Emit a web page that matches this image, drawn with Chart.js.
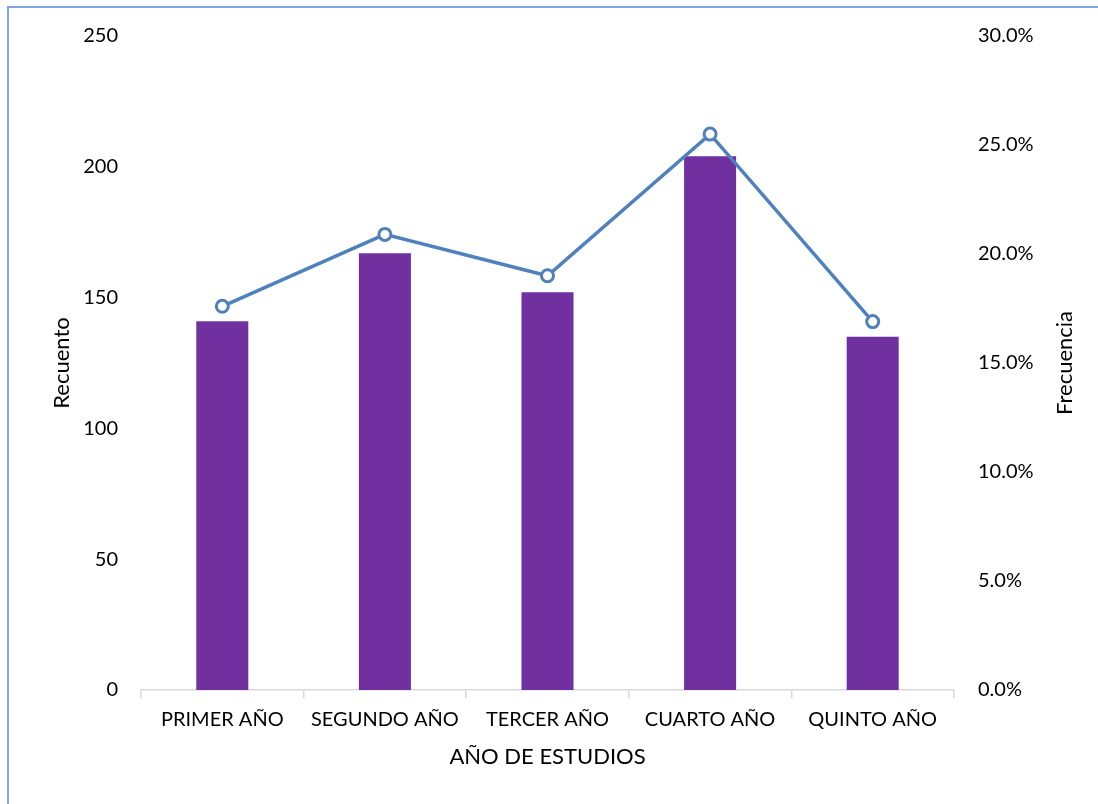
<!DOCTYPE html>
<html><head><meta charset="utf-8">
<script src="https://cdn.jsdelivr.net/npm/chart.js@4/dist/chart.umd.min.js"></script>
<style>
html,body{margin:0;padding:0;background:#fff;}
#wrap{position:absolute;left:0;top:0;width:1098px;height:804px;}
#frame{position:absolute;left:7px;top:6px;width:1200px;height:900px;border-left:2px solid #7EA6DC;border-top:2px solid #7EA6DC;}
canvas{position:absolute;left:0;top:0;}
</style></head>
<body><div id="wrap"><div id="frame"></div><canvas id="c" width="1098" height="804"></canvas></div>
<script>
const categories = ['PRIMER AÑO','SEGUNDO AÑO','TERCER AÑO','CUARTO AÑO','QUINTO AÑO'];
const recuento = [141, 167, 152, 204, 135];
const frecuencia = [0.176, 0.209, 0.190, 0.255, 0.169];
const leftTicks = [0, 50, 100, 150, 200, 250];
const rightTicks = [0, 0.05, 0.10, 0.15, 0.20, 0.25, 0.30];
const rightTitle = 'Frecuencia';

const FONT = 'Lato, "Open Sans", sans-serif';
Chart.defaults.font.family = FONT;
Chart.defaults.font.size = 20;
Chart.defaults.color = '#000';

const rightTitlePlugin = {
  id:'rightTitle',
  afterDraw(chart){
    const ctx = chart.ctx, a = chart.chartArea;
    ctx.save();
    ctx.font = '22px ' + FONT;
    ctx.fillStyle = '#000';
    ctx.textAlign = 'center';
    ctx.textBaseline = 'middle';
    ctx.translate(1065, (a.top + a.bottom)/2);
    ctx.rotate(-Math.PI/2);
    ctx.fillText(rightTitle, 0, 0);
    ctx.restore();
  }
};

new Chart(document.getElementById('c'), {
  type: 'bar',
  data: {
    labels: categories,
    datasets: [
      {type:'line', label:'Frecuencia', data: frecuencia, yAxisID:'y1', order:0,
       borderColor:'#4F81BD', borderWidth:3.5, pointRadius:6, pointBorderWidth:3,
       pointBackgroundColor:'#fff', pointBorderColor:'#4F81BD', tension:0},
      {type:'bar', label:'Recuento', data: recuento, yAxisID:'y', order:1,
       backgroundColor:'#7030A0', categoryPercentage:1, barPercentage:0.32}
    ]
  },
  options: {
    responsive:false, animation:false,
    layout:{padding:{left:49, right:22, top:36, bottom:30}},
    plugins:{legend:{display:false}, tooltip:{enabled:false}},
    scales:{
      x:{
        grid:{display:true, drawOnChartArea:false, offset:true, tickLength:8, color:'#d9d9d9', lineWidth:1.5},
        border:{display:true, color:'#d9d9d9', width:1.5},
        ticks:{padding:10, font:{size:20}},
        title:{display:true, text:'AÑO DE ESTUDIOS', font:{size:22}, padding:{top:6, bottom:4}},
        afterFit(s){ s.height = 84; }
      },
      y:{
        position:'left', min:0, max:250,
        afterBuildTicks(s){ s.ticks = leftTicks.map(v=>({value:v})); },
        grid:{display:false}, border:{display:false},
        ticks:{padding:15, font:{size:20}},
        title:{display:true, text:'Recuento', font:{size:22}, padding:{top:0,bottom:0}},
        afterFit(s){ s.width = 92; }
      },
      y1:{
        position:'right', min:0, max:0.30,
        afterBuildTicks(s){ s.ticks = rightTicks.map(v=>({value:v})); },
        grid:{display:false}, border:{display:false},
        ticks:{padding:16, font:{size:20}, callback:v=>(v*100).toFixed(1)+'%'},
        title:{display:false},
        afterFit(s){ s.width = 122; }
      }
    }
  },
  plugins:[rightTitlePlugin]
});
</script></body></html>
